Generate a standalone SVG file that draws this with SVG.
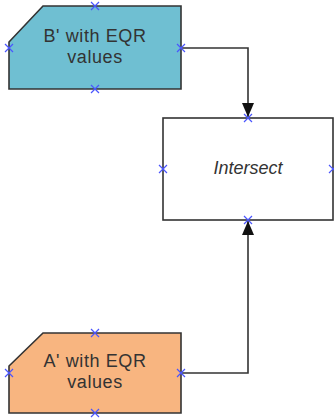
<svg xmlns="http://www.w3.org/2000/svg" width="334" height="418" viewBox="0 0 334 418">
  <style>
    .shape { stroke: #333333; stroke-width: 1.6; }
    .label { font-family: "Liberation Sans", Arial, sans-serif; font-size: 18px; fill: #333333; text-anchor: middle; letter-spacing: 0.6px; }
    .pin { stroke: #4a55ff; stroke-width: 1.2; fill: none; }
    .wire { stroke: #333333; stroke-width: 1.6; fill: none; }
  </style>
  <defs>
    <marker id="arrow" viewBox="0 0 14 12" refX="14" refY="6" markerWidth="14" markerHeight="12" markerUnits="userSpaceOnUse" orient="auto">
      <path d="M0,0 L14,6 L0,12 Z" fill="#111111"/>
    </marker>
    <path id="x" d="M-4,-4 L4,4 M-4,4 L4,-4" class="pin"/>
  </defs>
  <rect width="334" height="418" fill="#ffffff"/>

  <g id="connectors">
    <path class="wire" d="M181,48 H248 V117" marker-end="url(#arrow)"/>
    <path class="wire" d="M181,373 H248 V221" marker-end="url(#arrow)"/>
  </g>

  <g id="node-b">
    <path class="shape" fill="#6fbfd2" d="M43,6 H181 V89 H9 V42 Z"/>
    <text class="label" x="95" y="42">B' with EQR</text>
    <text class="label" x="95" y="63">values</text>
    <use href="#x" x="95" y="6"/><use href="#x" x="9" y="48"/><use href="#x" x="181" y="48"/><use href="#x" x="95" y="89"/>
  </g>

  <g id="node-intersect">
    <rect class="shape" fill="#ffffff" x="163" y="118" width="170" height="102"/>
    <text class="label" x="248" y="174" font-style="italic" style="letter-spacing:0">Intersect</text>
    <use href="#x" x="248" y="118"/><use href="#x" x="163" y="169"/><use href="#x" x="333" y="169"/><use href="#x" x="248" y="220"/>
  </g>

  <g id="node-a">
    <path class="shape" fill="#f8b580" d="M43,333 H181 V413 H9 V366 Z"/>
    <text class="label" x="95" y="367">A' with EQR</text>
    <text class="label" x="95" y="388">values</text>
    <use href="#x" x="95" y="333"/><use href="#x" x="9" y="373"/><use href="#x" x="181" y="373"/><use href="#x" x="95" y="413"/>
  </g>
</svg>
